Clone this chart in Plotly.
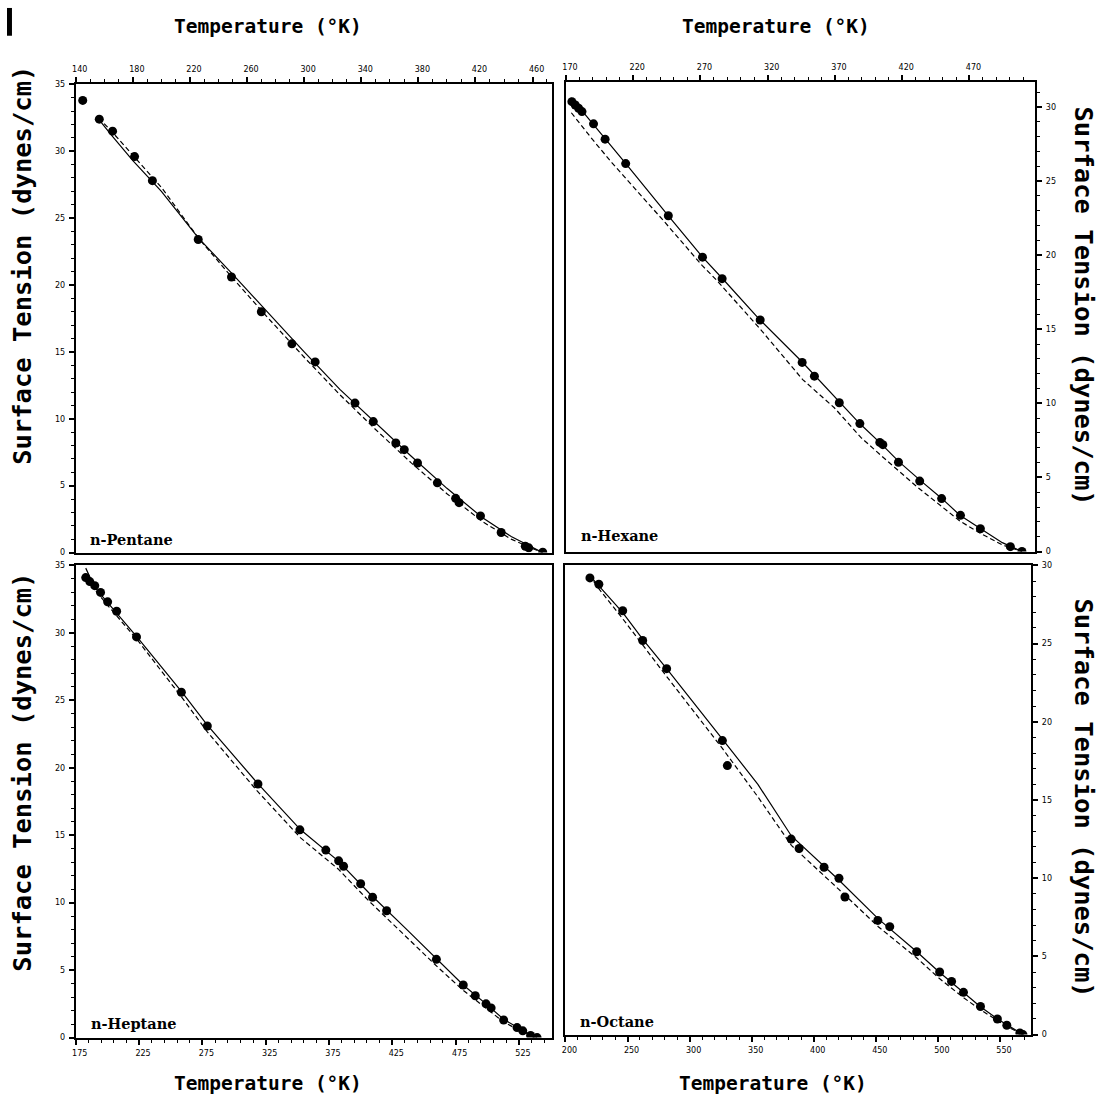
import plotly.graph_objects as go

W, H = 1106, 1113

# ---------------- data ----------------
pent_T = [144.9, 156.5, 165.8, 181.2, 193.7, 225.8, 249.1, 270.0, 291.4, 307.7, 335.6, 348.4,
          364.2, 370.1, 379.4, 393.3, 406.1, 408.5, 423.5, 438.0, 454.9, 457.3, 467.1]
pent_s = [33.8, 32.4, 31.5, 29.6, 27.8, 23.4, 20.6, 18.0, 15.6, 14.25, 11.17, 9.79,
          8.19, 7.69, 6.69, 5.21, 4.05, 3.73, 2.74, 1.50, 0.47, 0.35, 0.02]
pent_solid_T = [156, 165, 180, 200, 226, 250, 275, 300, 325, 350, 375, 400, 425, 445, 460, 467]
pent_solid_s = [32.4, 31.2, 29.3, 27.0, 23.5, 20.8, 17.9, 15.0, 12.2, 9.7, 7.2, 4.8, 2.6, 1.2, 0.4, 0.0]
pent_dash_T = [156, 165, 180, 200, 226, 250, 275, 300, 325, 350, 375, 400, 425, 445, 460, 467]
pent_dash_s = [32.5, 31.5, 29.7, 27.3, 23.5, 20.5, 17.5, 14.6, 11.8, 9.2, 6.7, 4.4, 2.3, 1.0, 0.3, 0.0]

hex_T = [174.4, 176.9, 179.4, 181.9, 190.5, 199.1, 214.4, 246.1, 271.5, 286.1, 314.4, 345.6,
         354.7, 373.2, 388.5, 403.3, 405.6, 417.2, 433.0, 449.3, 463.3, 478.1, 500.4, 509.0]
hex_s = [30.35, 30.12, 29.9, 29.68, 28.85, 27.82, 26.17, 22.65, 19.86, 18.41, 15.62, 12.76,
         11.83, 10.04, 8.63, 7.36, 7.21, 6.02, 4.75, 3.57, 2.44, 1.54, 0.33, 0.0]
hex_solid_T = [174, 180, 189.7, 199.5, 214.2, 245.7, 271.2, 288, 314.5, 346, 373.5, 388.2, 404,
               417.7, 433.4, 449.2, 462.9, 478.7, 494.4, 509.1]
hex_solid_s = [30.6, 29.95, 28.9, 27.85, 26.2, 22.7, 19.9, 18.25, 15.6, 12.75, 10.1, 8.65, 7.3,
               6.05, 4.8, 3.6, 2.45, 1.5, 0.6, 0.0]
hex_dash_T = [174, 189.7, 204.4, 214.2, 242.7, 271.2, 282.1, 314.5, 346, 369.5, 389.2, 404,
              417.7, 430.5, 449.2, 462.9, 478.7, 494.4, 509.1]
hex_dash_s = [29.6, 27.8, 26.2, 25.2, 22.3, 19.3, 18.3, 15.0, 11.6, 9.7, 7.7, 6.5,
              5.4, 4.4, 3.05, 2.05, 1.2, 0.45, 0.0]

hept_T = [182.9, 186.1, 190.0, 194.6, 200.2, 207.3, 223.0, 258.4, 278.9, 318.9, 352.0, 372.5,
          382.6, 386.5, 400.0, 409.4, 420.5, 459.8, 481.0, 490.5, 499.0, 503.0, 512.9, 523.5,
          528.0, 534.2, 539.3]
hept_s = [34.1, 33.8, 33.5, 33.0, 32.3, 31.6, 29.7, 25.6, 23.1, 18.8, 15.4, 13.9,
          13.1, 12.7, 11.4, 10.4, 9.4, 5.8, 3.9, 3.1, 2.5, 2.2, 1.3, 0.74,
          0.5, 0.15, 0.0]
hept_solid_T = [182.9, 189.8, 199.7, 224.3, 258.9, 278.6, 318.1, 352.6, 382.2, 406.8, 436.5, 461.1,
                481, 499, 513, 524, 532, 539.3]
hept_solid_s = [34.8, 33.4, 32.3, 29.6, 25.6, 23.2, 18.9, 15.4, 13.1, 10.7, 8.0, 5.7,
                3.9, 2.5, 1.35, 0.75, 0.3, 0.0]
hept_dash_T = [182.9, 189.8, 199.7, 224.3, 258.9, 278.6, 318.1, 352.6, 382.2, 406.8, 436.5, 461.1,
               481, 499, 513, 524, 532, 539.3]
hept_dash_s = [34.0, 33.2, 32.1, 29.4, 25.2, 22.7, 18.3, 14.8, 12.5, 10.1, 7.4, 5.2,
               3.5, 2.2, 1.15, 0.6, 0.25, 0.0]

oct_T = [219.7, 226.9, 246.1, 262.2, 281.5, 326.4, 330.4, 381.8, 388.2, 408.3, 420.3, 425.1,
         451.6, 461.2, 482.9, 501.4, 511.0, 520.6, 534.3, 547.9, 555.5, 566.0, 568.5]
oct_s = [29.2, 28.8, 27.1, 25.2, 23.4, 18.8, 17.2, 12.5, 11.9, 10.7, 10.0, 8.8,
         7.3, 6.9, 5.3, 4.0, 3.4, 2.7, 1.8, 1.0, 0.6, 0.1, 0.0]
oct_solid_T = [219, 227, 246, 262, 281.5, 326.4, 355, 382, 408, 420, 452, 483, 501, 520, 534, 548, 556, 568.5]
oct_solid_s = [29.4, 28.7, 27.0, 25.3, 23.4, 18.9, 16.0, 12.7, 10.8, 9.9, 7.4, 5.3, 4.0, 2.7, 1.8, 1.0, 0.6, 0.0]
oct_dash_T = [219, 227, 246, 262, 281.5, 326.4, 355, 382, 408, 420, 452, 483, 501, 520, 534, 548, 556, 568.5]
oct_dash_s = [29.4, 28.5, 26.6, 24.9, 22.9, 18.3, 15.2, 12.1, 10.2, 9.3, 6.9, 4.9, 3.6, 2.4, 1.6, 0.9, 0.5, 0.0]

pent_xticks = [140, 180, 220, 260, 300, 340, 380, 420, 460]
hex_xticks = [170, 220, 270, 320, 370, 420, 470]
hept_xticks = [175, 225, 275, 325, 375, 425, 475, 525]
oct_xticks = [200, 250, 300, 350, 400, 450, 500, 550]
y35_ticks = [0, 5, 10, 15, 20, 25, 30, 35]
y30_ticks = [0, 5, 10, 15, 20, 25, 30]

labels = ["n-Pentane", "n-Hexane", "n-Heptane", "n-Octane"]
x_title = "Temperature (°K)"
y_title = "Surface Tension (dynes/cm)"

# ---------------- layout geometry (pixels) ----------------
panels = [
    dict(pts=(pent_T, pent_s), sol=(pent_solid_T, pent_solid_s), das=(pent_dash_T, pent_dash_s),
         xb=(72, 550), yb=(81, 553), xr=(140, 473.6), yr=(0, 35), xs="top", ys="left",
         xt=pent_xticks, yt=y35_ticks, xm=10),
    dict(pts=(hex_T, hex_s), sol=(hex_solid_T, hex_solid_s), das=(hex_dash_T, hex_dash_s),
         xb=(564, 1035), yb=(79, 552), xr=(170, 518.9), yr=(0, 31.65), xs="top", ys="right",
         xt=hex_xticks, yt=y30_ticks, xm=10),
    dict(pts=(hept_T, hept_s), sol=(hept_solid_T, hept_solid_s), das=(hept_dash_T, hept_dash_s),
         xb=(72, 550), yb=(566, 1042), xr=(175, 551.1), yr=(0, 35), xs="bottom", ys="left",
         xt=hept_xticks, yt=y35_ticks, xm=10),
    dict(pts=(oct_T, oct_s), sol=(oct_solid_T, oct_solid_s), das=(oct_dash_T, oct_dash_s),
         xb=(563.5, 1031), yb=(566, 1039), xr=(200, 575.2), yr=(0, 30), xs="bottom", ys="right",
         xt=oct_xticks, yt=y30_ticks, xm=10),
]

fig = go.Figure()
tickfont = dict(family="DejaVu Sans", size=8, color="black")
layout = {}
for i, p in enumerate(panels, start=1):
    xa = "x" if i == 1 else f"x{i}"
    ya = "y" if i == 1 else f"y{i}"
    fig.add_trace(go.Scatter(x=p["sol"][0], y=p["sol"][1], mode="lines",
                             line=dict(color="black", width=1.2), xaxis=xa, yaxis=ya,
                             showlegend=False, hoverinfo="skip"))
    fig.add_trace(go.Scatter(x=p["das"][0], y=p["das"][1], mode="lines",
                             line=dict(color="black", width=1.2, dash="5px,3px"), xaxis=xa, yaxis=ya,
                             showlegend=False, hoverinfo="skip"))
    fig.add_trace(go.Scatter(x=p["pts"][0], y=p["pts"][1], mode="markers",
                             marker=dict(color="black", size=9, symbol="circle"), xaxis=xa, yaxis=ya,
                             showlegend=False))
    xkey = "xaxis" if i == 1 else f"xaxis{i}"
    ykey = "yaxis" if i == 1 else f"yaxis{i}"
    layout[xkey] = dict(
        domain=[p["xb"][0] / W, p["xb"][1] / W], range=list(p["xr"]), anchor=ya, side=p["xs"],
        showline=True, linewidth=2, linecolor="black", mirror=True, showgrid=False, zeroline=False,
        tickmode="array", tickvals=p["xt"], ticks="outside", ticklen=5, tickwidth=1.5, tickcolor="black",
        minor=dict(dtick=p["xm"], tick0=p["xt"][0], ticks="outside", ticklen=3, tickwidth=1, tickcolor="black"),
        tickfont=tickfont, ticklabelshift=4, ticklabelstandoff=2)
    layout[ykey] = dict(
        domain=[1 - p["yb"][1] / H, 1 - p["yb"][0] / H], range=list(p["yr"]), anchor=xa, side=p["ys"],
        showline=True, linewidth=2, linecolor="black", mirror=True, showgrid=False, zeroline=False,
        tickmode="array", tickvals=p["yt"], ticks="outside", ticklen=5, tickwidth=1.5, tickcolor="black",
        minor=dict(dtick=1, tick0=0, ticks="outside", ticklen=3, tickwidth=1, tickcolor="black"),
        tickfont=tickfont, ticklabelstandoff=2)

titlefont_h = dict(family="DejaVu Sans Mono", size=19.5, color="black", weight="bold")
titlefont_v = dict(family="DejaVu Sans Mono", size=25.5, color="black", weight="bold")
labfont = dict(family="DejaVu Serif", size=14.5, color="black", weight="bold")

ann = []
for cx, cy in [(265, 23), (775, 23), (265, 1088), (772, 1088)]:
    ann.append(dict(text=x_title, x=cx / W, y=1 - cy / H, xref="paper", yref="paper",
                    showarrow=False, font=titlefont_h, xanchor="center", yanchor="middle"))
for cx, cy, ang in [(18, 263, -90), (18, 774, -90), (1084, 304, 90), (1084, 800, 90)]:
    ann.append(dict(text=y_title, x=cx / W, y=1 - cy / H, xref="paper", yref="paper",
                    showarrow=False, font=titlefont_v, textangle=ang, xanchor="center", yanchor="middle"))
for (lx, ly), t in zip([(84, 540), (577, 536), (85, 1028), (576, 1026)], labels):
    ann.append(dict(text=t, x=lx / W, y=1 - ly / H, xref="paper", yref="paper",
                    showarrow=False, font=labfont, xanchor="left", yanchor="middle"))

fig.update_layout(
    width=W, height=H, margin=dict(l=0, r=0, t=0, b=0),
    paper_bgcolor="white", plot_bgcolor="white", annotations=ann,
    shapes=[dict(type="rect", xref="paper", yref="paper", x0=3 / W, x1=8 / W, y0=1 - 32 / H, y1=1 - 4 / H,
                 fillcolor="black", line=dict(width=0))],
    **layout)

fig.write_html("out.html", config={"displayModeBar": False},
               post_script="document.body.style.margin='0px';document.body.style.overflow='hidden';")
